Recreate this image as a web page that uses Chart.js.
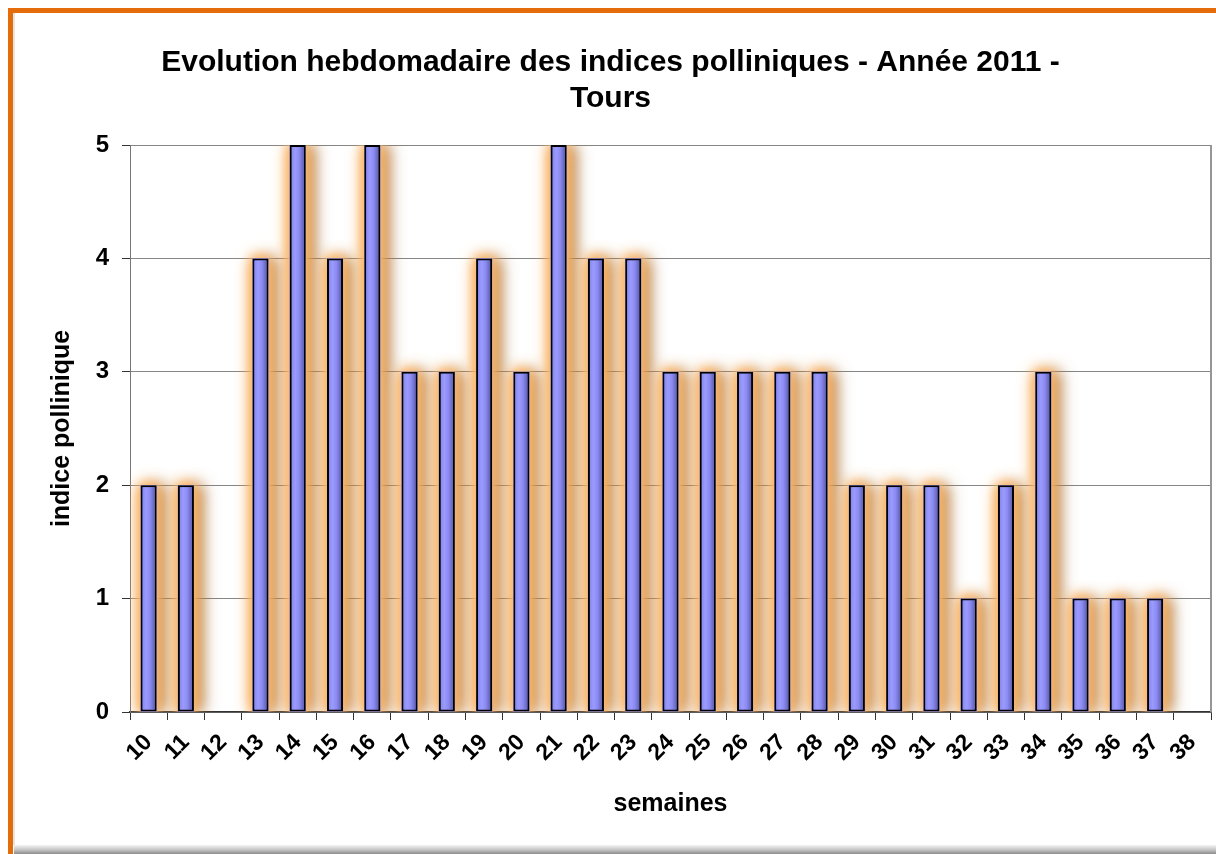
<!DOCTYPE html>
<html>
<head>
<meta charset="utf-8">
<script src="https://cdn.jsdelivr.net/npm/chart.js@4/dist/chart.umd.min.js"></script>
<style>
  html, body { margin: 0; padding: 0; background: #fff; }
  #wrap { width: 1216px; height: 854px; position: relative; }
</style>
</head>
<body>
<div id="wrap"><canvas id="chart"></canvas></div>
<script>
const weeks = [
  "10", "11", "12", "13", "14", "15", "16", "17", "18", "19", "20", "21", "22",
  "23", "24", "25", "26", "27", "28", "29", "30", "31", "32", "33", "34", "35",
  "36", "37", "38",
];

const pollenIndex = [
  2, 2, null, 4, 5, 4, 5, 3, 3, 4, 3, 5, 4,
  4, 3, 3, 3, 3, 3, 2, 2, 2, 1, 2, 3, 1,
  1, 1, null,
];

const titleLines = ["Evolution hebdomadaire des indices polliniques - Année 2011 -", "Tours"];

Chart.defaults.font.family = "'Liberation Sans', Arial, sans-serif";
Chart.defaults.font.weight = "bold";
Chart.defaults.color = "#000";

// white background, orange frame, plot border
const framePlugin = {
  id: "frame",
  beforeDraw(chart) {
    const c = chart.ctx;
    c.save();
    c.fillStyle = "#fff";
    c.fillRect(0, 0, chart.width, chart.height);
    c.restore();
  },
  afterDraw(chart) {
    const c = chart.ctx;
    const a = chart.chartArea;
    c.save();
    // right edge of plot area
    c.strokeStyle = "#969696";
    c.lineWidth = 2;
    c.beginPath();
    c.moveTo(a.right, a.top);
    c.lineTo(a.right, a.bottom);
    c.stroke();
    // bottom shadow
    const g = c.createLinearGradient(0, 845, 0, 854);
    g.addColorStop(0, "#f4f4f4");
    g.addColorStop(0.5, "#c8c8c8");
    g.addColorStop(1, "#8c8c8c");
    c.fillStyle = g;
    c.fillRect(14, 845, chart.width - 14, 9);
    // inner light line next to orange
    c.fillStyle = "#e6e6e6";
    c.fillRect(13, 13, 2, 832);
    // orange frame
    c.fillStyle = "#e46c0a";
    c.fillRect(8, 8, chart.width - 8, 5);
    c.fillRect(8, 8, 5, chart.height - 8);
    c.restore();
  },
};

// orange glow + brown drop shadow behind the bars
// (bar element clips its own drawing, so the glow is painted underneath first)
const glowPlugin = {
  id: "glow",
  beforeDatasetsDraw(chart) {
    const c = chart.ctx;
    const a = chart.chartArea;
    const bars = chart.getDatasetMeta(0).data;
    const passes = [
      { color: "rgba(150,95,40,0.8)", blur: 16, dx: 9 },
      { color: "rgba(250,170,80,1)", blur: 18, dx: 0 },
      { color: "rgba(250,170,80,1)", blur: 14, dx: 0 },
      { color: "rgba(252,190,120,1)", blur: 8, dx: 0 },
    ];
    c.save();
    c.beginPath();
    c.rect(a.left, a.top, a.right - a.left, a.bottom - a.top);
    c.clip();
    passes.forEach((p) => {
      c.shadowColor = p.color;
      c.shadowBlur = p.blur;
      c.shadowOffsetX = p.dx;
      c.shadowOffsetY = 0;
      c.fillStyle = "#8c8cf0";
      bars.forEach((bar, i) => {
        if (pollenIndex[i] == null) return;
        const { x, y, base, width } = bar.getProps(["x", "y", "base", "width"], true);
        c.fillRect(x - width / 2, y, width, base - y);
      });
    });
    c.restore();
  },
};

function barFill(context) {
  const chart = context.chart;
  const xs = chart.scales.x;
  if (!xs || !chart.chartArea) return "#8c8cf0";
  const px = xs.getPixelForValue(context.dataIndex);
  const g = chart.ctx.createLinearGradient(px - 8, 0, px + 8, 0);
  g.addColorStop(0, "#8080e6");
  g.addColorStop(0.35, "#9a9aff");
  g.addColorStop(0.6, "#8a8af0");
  g.addColorStop(1, "#50509e");
  return g;
}

new Chart(document.getElementById("chart"), {
  type: "bar",
  data: {
    labels: weeks,
    datasets: [
      {
        label: "indice pollinique",
        data: pollenIndex,
        backgroundColor: barFill,
        borderColor: "#000",
        borderWidth: 2,
        borderSkipped: false,
        barPercentage: 0.43,
        categoryPercentage: 1,
      },
    ],
  },
  options: {
    responsive: true,
    maintainAspectRatio: false,
    animation: false,
    layout: { padding: { left: 5, right: 0, top: 0, bottom: 0 } },
    plugins: {
      legend: { display: false },
      tooltip: { enabled: false },
      title: {
        display: true,
        text: titleLines,
        color: "#000",
        font: { size: 30, weight: "bold", lineHeight: 1.2 },
        padding: { top: 45, bottom: 28 },
      },
    },
    scales: {
      x: {
        grid: {
          offset: true,
          drawOnChartArea: false,
          drawTicks: true,
          tickLength: 8,
          color: "#333",
        },
        border: { color: "#333", width: 1.5 },
        ticks: {
          minRotation: 45,
          maxRotation: 45,
          autoSkip: false,
          padding: 9,
          font: { size: 23, weight: "bold" },
        },
        title: {
          display: true,
          text: "semaines",
          font: { size: 25, weight: "bold", lineHeight: 1.2 },
          padding: { top: 0, bottom: 35 },
        },
        afterFit(scale) {
          scale.height = 142;
          scale.paddingLeft = 0;
          scale.paddingRight = 5;
        },
      },
      y: {
        min: 0,
        max: 5,
        ticks: {
          stepSize: 1,
          padding: 13,
          font: { size: 24, weight: "bold" },
        },
        grid: {
          color: "#868686",
          tickColor: "#333",
          tickLength: 8,
        },
        border: { color: "#777", width: 1 },
        title: {
          display: true,
          text: "indice pollinique",
          font: { size: 25, weight: "bold", lineHeight: 1.2 },
          padding: { top: 42, bottom: 0 },
        },
        afterFit(scale) {
          scale.width = 125;
        },
      },
    },
  },
  plugins: [framePlugin, glowPlugin],
});
</script>
</body>
</html>
